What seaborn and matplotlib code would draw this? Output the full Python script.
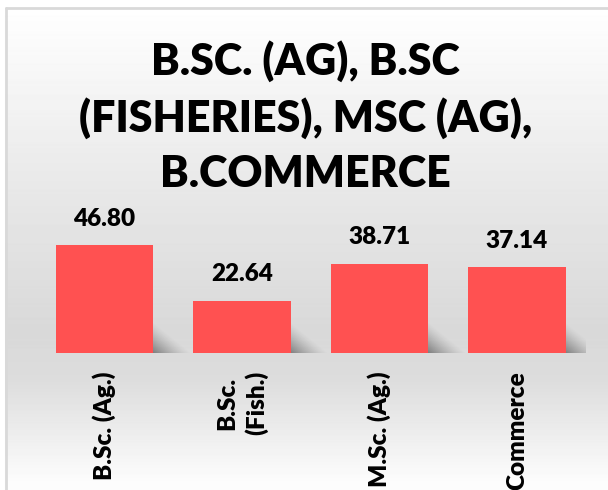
import numpy as np
import pandas as pd
import matplotlib
matplotlib.use("Agg")
import matplotlib.pyplot as plt
import seaborn as sns

# data
programs = ["B.Sc. (Ag.)", "B.Sc.\n(Fish.)", "M.Sc. (Ag.)", "Commerce"]
percent = [46.80, 22.64, 38.71, 37.14]
title = "B.SC. (AG), B.SC\n(FISHERIES), MSC (AG),\nB.COMMERCE"

W, H = 608, 490
bar_color = "#ff5151"

sns.set_theme(style="white")
plt.rcParams["font.family"] = ["Lato", "DejaVu Sans"]

fig = plt.figure(figsize=(W / 100, H / 100), dpi=100)

# background panel: vertical grey gradient with a thin border (top/left visible)
bg = fig.add_axes([0, 0, 1, 1], zorder=-5)
rows = np.arange(H)
stops_y = [8, 200, 330, 380, 482]
stops_v = [1.0, 0.905, 0.85, 0.865, 0.99]
shade = np.interp(rows, stops_y, stops_v)
img = np.repeat(shade[:, None], W, axis=1)
img[:7, :] = 1.0
img[:, :5] = 1.0
bg.imshow(img, cmap="gray", vmin=0, vmax=1, extent=(0, W, H, 0), aspect="auto")
bg.plot([6, 6], [8, H], color="#d9d9d9", lw=2)
bg.plot([6, W], [8, 8], color="#d9d9d9", lw=2)
bg.set_xlim(0, W)
bg.set_ylim(H, 0)
bg.axis("off")

# main plot area
px_per_unit = 2.308
ax = fig.add_axes([35.75 / W, 137 / H, 550 / W, 153 / H])
ax.patch.set_alpha(0)

df = pd.DataFrame({"program": programs, "percent": percent})
sns.barplot(data=df, x="program", y="percent", color=bar_color, saturation=1,
            width=0.71, linewidth=0, ax=ax, zorder=3)

ymax = 153 / px_per_unit

# soft floor shadow at the lower right of each bar
sw, sh = 38, 30  # px
gx = np.linspace(0, 1, 60)
gy = np.linspace(0, 1, 40)
GX, GY = np.meshgrid(gx, gy)
alpha = np.clip(1 - GX - 0.9 * GY, 0, 1) ** 1.3 * 0.45
shadow = np.zeros((40, 60, 4))
shadow[..., 3] = alpha
for p in ax.patches:
    x1 = p.get_x() + p.get_width()
    ax.imshow(shadow, extent=(x1 - 0.02, x1 + sw / 137.5, 0, sh / px_per_unit),
              origin="lower", aspect="auto", zorder=2, interpolation="bilinear")
ax.set_xlim(-0.5, len(programs) - 0.5)
ax.set_ylim(0, ymax)

for i, v in enumerate(percent):
    ax.annotate(f"{v:.2f}", (i, v), xytext=(0, 14), textcoords="offset points",
                ha="center", va="baseline", fontsize=17.5, fontweight="heavy",
                color="black")

ax.set_xlabel("")
ax.set_ylabel("")
ax.set_yticks([])
ax.tick_params(axis="x", length=0, pad=13)
ax.set_xticks(range(len(programs)))
ax.set_xticklabels(programs, rotation=90, fontsize=17.5, fontweight="heavy",
                   color="black", ha="center", va="top",
                   multialignment="center", linespacing=1.3)
for s in ax.spines.values():
    s.set_visible(False)

fig.text(0.502, (H - 117) / H, title, ha="center", va="center", fontsize=31,
         fontweight="heavy", color="black", linespacing=1.45)

fig.savefig("out.png", dpi=100)
